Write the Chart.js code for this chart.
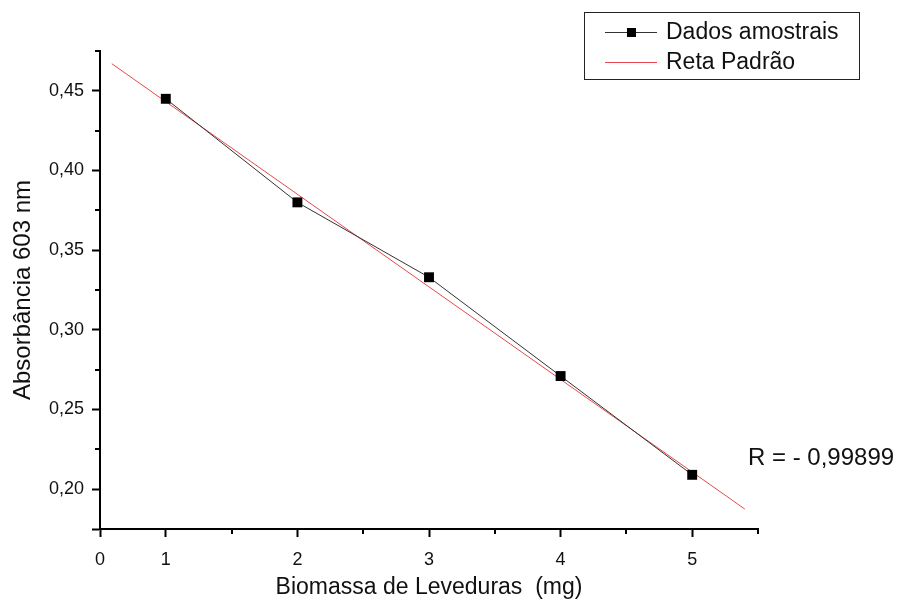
<!DOCTYPE html>
<html>
<head>
<meta charset="utf-8">
<script src="https://cdn.jsdelivr.net/npm/chart.js@4/dist/chart.umd.min.js"></script>
<style>
  html, body { margin: 0; padding: 0; background: #fff; }
  #wrap { width: 897px; height: 601px; position: relative; }
</style>
</head>
<body>
<div id="wrap"><canvas id="grafico"></canvas></div>
<script>
// dados
var biomassa = [1, 2, 3, 4, 5];
var absorbancia = [0.445, 0.380, 0.333, 0.271, 0.209];
// extremos da reta padrão (como desenhada)
var retaX = [0.59, 5.40];
var retaY = [0.467, 0.1875];
var ticksX = [0.5, 1, 2, 3, 4, 5];
var rotulosX = ['0', '1', '2', '3', '4', '5'];
var ticksY = [0.175, 0.20, 0.25, 0.30, 0.35, 0.40, 0.45];
var menoresX = [1.5, 2.5, 3.5, 4.5, 5.5];
var menoresY = [0.225, 0.275, 0.325, 0.375, 0.425, 0.475];
var textoR = 'R = - 0,99899';

var fonte = "'Liberation Sans', Arial, sans-serif";

// tracinhos menores dos eixos
var pluginMenores = {
    id: 'menores',
    afterDraw: function(chart) {
        var ctx = chart.ctx;
        var sx = chart.scales.x, sy = chart.scales.y;
        var area = chart.chartArea;
        ctx.save();
        ctx.strokeStyle = '#000';
        ctx.lineWidth = 2;
        menoresX.forEach(function(v) {
            var px = Math.round(sx.getPixelForValue(v));
            ctx.beginPath();
            ctx.moveTo(px, area.bottom);
            ctx.lineTo(px, area.bottom + 5);
            ctx.stroke();
        });
        menoresY.forEach(function(v) {
            var py = Math.round(sy.getPixelForValue(v));
            ctx.beginPath();
            ctx.moveTo(area.left, py);
            ctx.lineTo(area.left - 5, py);
            ctx.stroke();
        });
        // texto do coeficiente
        ctx.fillStyle = '#111';
        ctx.font = '24px ' + fonte;
        ctx.textBaseline = 'middle';
        ctx.textAlign = 'left';
        ctx.fillText(textoR, 748, 458);
        ctx.restore();
    }
};

// legenda desenhada na caixa
var pluginLegenda = {
    id: 'legendaCaixa',
    afterDraw: function(chart) {
        var ctx = chart.ctx;
        var ds = chart.data.datasets;
        ctx.save();
        ctx.strokeStyle = '#222';
        ctx.lineWidth = 1;
        ctx.strokeRect(584.5, 12.5, 275, 67);
        var linhas = [32, 62];
        ds.forEach(function(d, i) {
            var y = linhas[i] + 0.5;
            ctx.strokeStyle = d.borderColor;
            ctx.lineWidth = 1;
            ctx.beginPath();
            ctx.moveTo(605, y);
            ctx.lineTo(657, y);
            ctx.stroke();
            if (d.pointRadius > 0) {
                ctx.fillStyle = '#000';
                ctx.fillRect(627, linhas[i] - 4, 9, 9);
            }
            ctx.fillStyle = '#111';
            ctx.font = '23px ' + fonte;
            ctx.textBaseline = 'middle';
            ctx.textAlign = 'left';
            ctx.fillText(d.label, 666, linhas[i] + 1);
        });
        ctx.restore();
    }
};

var ctx = document.getElementById('grafico').getContext('2d');
var grafico = new Chart(ctx, {
    type: 'scatter',
    data: {
        datasets: [{
            label: 'Dados amostrais',
            data: biomassa.map(function(x, i) { return { x: x, y: absorbancia[i] }; }),
            showLine: true,
            borderColor: '#333',
            borderWidth: 1,
            pointStyle: 'rect',
            pointRadius: 7,
            pointBackgroundColor: '#000',
            pointBorderColor: '#000',
            pointBorderWidth: 0,
            order: 1
        }, {
            label: 'Reta Padrão',
            data: retaX.map(function(x, i) { return { x: x, y: retaY[i] }; }),
            showLine: true,
            borderColor: '#e5484c',
            borderWidth: 1,
            pointRadius: 0,
            order: 2
        }]
    },
    options: {
        responsive: true,
        maintainAspectRatio: false,
        animation: false,
        layout: { padding: { left: 0, top: 51, right: 139, bottom: 0 } },
        plugins: {
            legend: { display: false },
            tooltip: { enabled: false }
        },
        scales: {
            x: {
                type: 'linear',
                min: 0.5,
                max: 5.5,
                afterBuildTicks: function(scale) {
                    scale.ticks = ticksX.map(function(v) { return { value: v }; });
                },
                afterFit: function(scale) { scale.height = 72; },
                ticks: {
                    color: '#111',
                    font: { family: fonte, size: 18 },
                    padding: 12,
                    maxRotation: 0,
                    callback: function(value) {
                        var i = ticksX.indexOf(value);
                        return i >= 0 ? rotulosX[i] : '';
                    }
                },
                grid: {
                    drawOnChartArea: false,
                    drawTicks: true,
                    tickLength: 8,
                    tickColor: '#000',
                    tickWidth: 2
                },
                border: { display: true, color: '#000', width: 2 },
                title: {
                    display: true,
                    text: 'Biomassa de Leveduras  (mg)',
                    color: '#111',
                    font: { family: fonte, size: 23 },
                    padding: { top: 0, bottom: 0 }
                }
            },
            y: {
                type: 'linear',
                min: 0.175,
                max: 0.475,
                afterBuildTicks: function(scale) {
                    scale.ticks = ticksY.map(function(v) { return { value: v }; });
                },
                afterFit: function(scale) { scale.width = 100; },
                ticks: {
                    color: '#111',
                    font: { family: fonte, size: 18 },
                    padding: 8,
                    callback: function(value) {
                        if (value < 0.19) return '';
                        return value.toFixed(2).replace('.', ',');
                    }
                },
                grid: {
                    drawOnChartArea: false,
                    drawTicks: true,
                    tickLength: 8,
                    tickColor: '#000',
                    tickWidth: 2
                },
                border: { display: true, color: '#000', width: 2 },
                title: {
                    display: true,
                    text: 'Absorbância 603 nm',
                    color: '#111',
                    font: { family: fonte, size: 24 },
                    padding: { top: 9, bottom: 0 }
                }
            }
        }
    },
    plugins: [pluginMenores, pluginLegenda]
});
</script>
</body>
</html>
